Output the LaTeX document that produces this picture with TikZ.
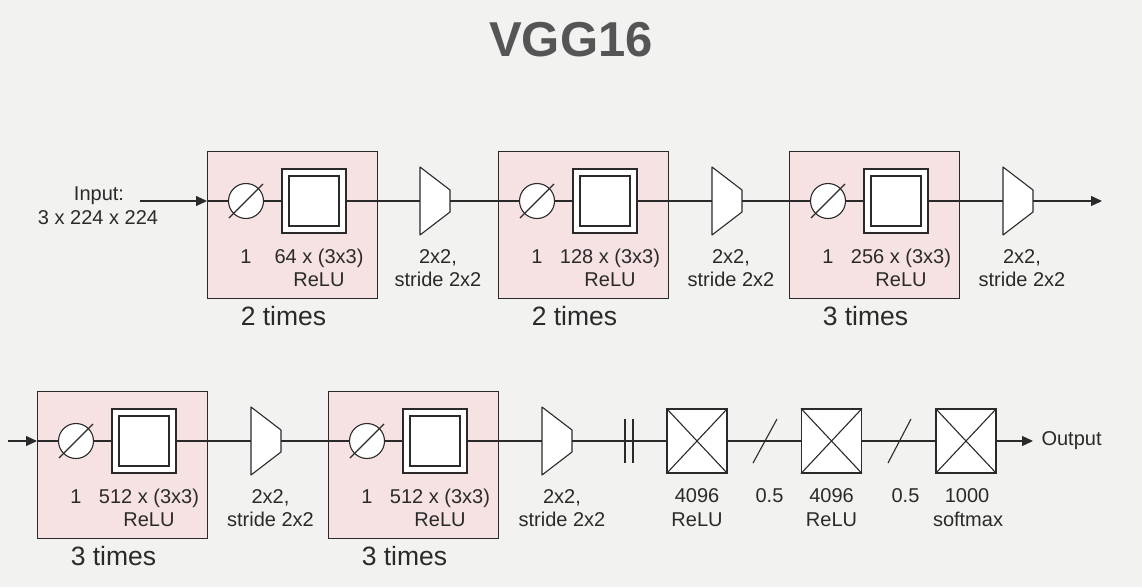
\documentclass[tikz,border=0pt]{standalone}
\usepackage{fontspec}
\setmainfont{Liberation Sans}
\usetikzlibrary{arrows.meta,calc}
\definecolor{bgcol}{HTML}{F2F2F0}
\definecolor{pinkfill}{HTML}{F6E2E2}
\definecolor{ink}{HTML}{2A2A2A}
\definecolor{titlegray}{HTML}{555555}
\newcommand\vggblock[5]{%
  \node[blockbox, anchor=north west] (#1) at (#2, #3-50) {};
  \coordinate (#1in) at (#2, #3);
  \node[circnode] (#1c) at (#2+39, #3) {};
  \draw[shorten <=-6pt, shorten >=-6pt] (#1c.south west) -- (#1c.north east);
  \node[sqout] (#1s) at (#2+107, #3) {};
  \node[sqin] (#1i) at (#1s) {};
  \draw (#1in) -- (#1c.west);
  \draw (#1c.east) -- (#1s.west);
  \node[lbl] (#1one) at (#2+39, #3+62) {1};
  \node[lbl] (#1f) at (#2+112, #3+62) {#4 x (3x3)};
  \node[lbl] (#1r) at (#2+112, #3+85) {ReLU};
  \node[lbl, font=\fontsize{26.5}{30}\selectfont] (#1t) at (#2+76.5, #3+124) {#5};
}
\newcommand\vggpool[4]{%
  \coordinate (#1w) at (#2, #3);
  \coordinate (#1e) at (#2+30, #3);
  \draw[fill=white, line join=round] (#2, #3-34) -- (#2+30, #3-11) -- (#2+30, #3+11) -- (#2, #3+34) -- cycle;
  \node[lbl] (#1a) at (#2+#4, #3+62) {2x2,};
  \node[lbl] (#1b) at (#2+#4, #3+85) {stride 2x2};
}
\begin{document}
\begin{tikzpicture}[x=1pt, y=-1pt, line width=1.1pt, draw=ink,
  every node/.style={font=\fontsize{20}{23}\selectfont, text=ink, inner sep=0pt},
  lbl/.style={anchor=base},
  blockbox/.style={draw=ink, fill=pinkfill, minimum width=170pt, minimum height=147pt},
  circnode/.style={circle, draw=ink, fill=white, minimum size=35pt},
  sqout/.style={draw=ink, fill=white, minimum width=64pt, minimum height=64pt},
  sqin/.style={draw=ink, fill=white, minimum width=50pt, minimum height=50pt},
  fcnode/.style={draw=ink, fill=white, minimum width=60pt, minimum height=64pt},
  arr/.style={-{Triangle[length=11pt, width=10pt]}}
]
\fill[bgcol] (0,0) rectangle (1142,587);
\useasboundingbox (0,0) rectangle (1142,587);

\node[font=\fontsize{49}{56}\bfseries\selectfont, text=titlegray] (title) at (571,40) {VGG16};

% ---- top row ----
\vggblock{ba}{207}{201}{64}{2 times}
\vggblock{bb}{498}{201}{128}{2 times}
\vggblock{bc}{789}{201}{256}{3 times}
\vggpool{pa}{420}{201}{18}
\vggpool{pb}{712}{201}{19}
\vggpool{pc}{1003}{201}{19}

\node[lbl] (inA) at (99,200) {Input:};
\node[lbl] (inB) at (98,224) {3 x 224 x 224};
\coordinate (instart) at (140,201);
\coordinate (topend) at (1102,201);
\draw[arr] (instart) -- (bain);
\draw (bas.east) -- (paw);
\draw (pae) -- (bbin);
\draw (bbs.east) -- (pbw);
\draw (pbe) -- (bcin);
\draw (bcs.east) -- (pcw);
\draw[arr] (pce) -- (topend);

% ---- bottom row ----
\vggblock{bd}{37}{441}{512}{3 times}
\vggblock{be}{328}{441}{512}{3 times}
\vggpool{pd}{251}{441}{19.5}
\vggpool{pe}{542}{441}{20}

\coordinate (botstart) at (8,441);
\draw[arr] (botstart) -- (bdin);
\draw (bds.east) -- (pdw);
\draw (pde) -- (bein);
\draw (bes.east) -- (pew);

\node[fcnode] (fa) at (697,441) {};
\node[fcnode] (fb) at (831.5,441) {};
\node[fcnode] (fc) at (966,441) {};
\foreach \f in {fa,fb,fc}{
  \draw (\f.north west) -- (\f.south east);
  \draw (\f.south west) -- (\f.north east);
}
\draw (pee) -- (fa.west);
\draw (fa.east) -- (fb.west);
\draw (fb.east) -- (fc.west);
\coordinate (outend) at (1033,441);
\draw[arr] (fc.east) -- (outend);
\node[anchor=west] (outtxt) at (1041,441) {Output};

% flatten bars
\draw (625,419) -- (625,463);
\draw (633,419) -- (633,463);
% dropout slashes
\draw (753,463) -- (777,419);
\draw (888,463) -- (911,419);

\node[lbl] (fal1) at (697,502) {4096};
\node[lbl] (fal2) at (697,526) {ReLU};
\node[lbl] (fbl1) at (831.5,502) {4096};
\node[lbl] (fbl2) at (831.5,526) {ReLU};
\node[lbl] (fcl1) at (967,502) {1000};
\node[lbl] (fcl2) at (968,526) {softmax};
\node[lbl] (da) at (769.5,502) {0.5};
\node[lbl] (db) at (905.5,502) {0.5};
\end{tikzpicture}
\end{document}
